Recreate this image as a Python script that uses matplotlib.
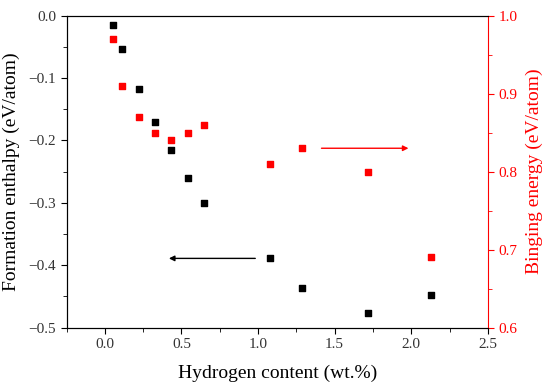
import numpy as np
import matplotlib.pyplot as plt
from matplotlib.ticker import MultipleLocator

plt.rcParams["font.family"] = ["Liberation Serif", "DejaVu Serif"]

h_content = [0.05, 0.113, 0.222, 0.33, 0.43, 0.54, 0.65, 1.077, 1.29, 1.72, 2.13]
formation = [-0.015, -0.053, -0.118, -0.171, -0.216, -0.26, -0.30, -0.389, -0.436, -0.476, -0.447]
binding = [0.970, 0.910, 0.870, 0.850, 0.840, 0.850, 0.860, 0.810, 0.830, 0.800, 0.690]

if __name__ == "__main__":
    fig, ax = plt.subplots(figsize=(5.5, 3.91), dpi=100)
    fig.subplots_adjust(left=0.121, right=0.887, top=0.96, bottom=0.162)
    ax2 = ax.twinx()

    ax.scatter(h_content, formation, marker="s", s=22, color="black", zorder=3)
    ax2.scatter(h_content, binding, marker="s", s=22, color="red", zorder=3)

    ax.set_xlim(-0.25, 2.5)
    ax.set_ylim(-0.5, 0.0)
    ax2.set_ylim(0.6, 1.0)

    ax.xaxis.set_major_locator(MultipleLocator(0.5))
    ax.xaxis.set_minor_locator(MultipleLocator(0.25))
    ax.yaxis.set_major_locator(MultipleLocator(0.1))
    ax.yaxis.set_minor_locator(MultipleLocator(0.05))
    ax2.yaxis.set_major_locator(MultipleLocator(0.1))
    ax2.yaxis.set_minor_locator(MultipleLocator(0.05))

    ax.tick_params(which="both", direction="out", labelsize=11, top=False,
                   labelcolor="#333333")
    ax.tick_params(which="major", length=4)
    ax.tick_params(which="minor", length=3)
    ax2.tick_params(which="both", direction="out", labelsize=11,
                    colors="red")
    ax2.tick_params(which="major", length=4)
    ax2.tick_params(which="minor", length=3)
    ax2.spines["right"].set_color("red")
    ax.spines["right"].set_visible(False)

    ax.set_xlabel("Hydrogen content (wt.%)", fontsize=14, labelpad=10)
    ax.set_ylabel("Formation enthalpy (eV/atom)", fontsize=14, labelpad=6)
    ax2.set_ylabel("Binging energy (eV/atom)", fontsize=14, color="red",
                   labelpad=6)

    ax.annotate("", xy=(0.4, -0.389), xytext=(1.0, -0.389),
                arrowprops=dict(arrowstyle="-|>", color="black", lw=1,
                                mutation_scale=8))
    ax2.annotate("", xy=(2.0, 0.83), xytext=(1.396, 0.83),
                 arrowprops=dict(arrowstyle="-|>", color="red", lw=1,
                                 mutation_scale=8))

    fig.savefig("out.png")
